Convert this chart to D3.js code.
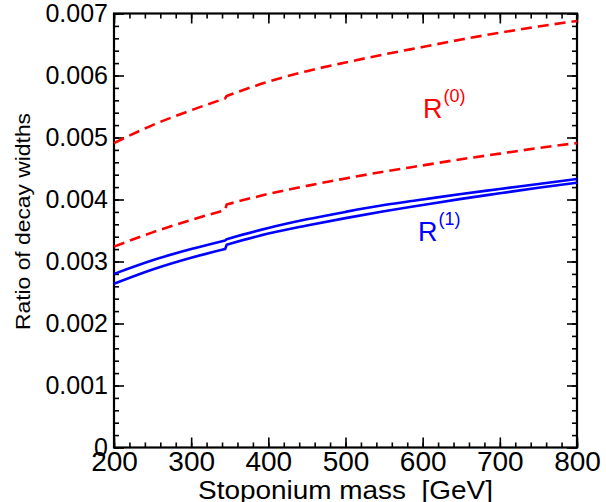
<!DOCTYPE html>
<html>
<head>
<meta charset="utf-8">
<script src="https://cdn.jsdelivr.net/npm/d3@7"></script>
<style>
  body { margin: 0; background: #fff; }
  svg { font-family: "Liberation Sans", Arial, Helvetica, sans-serif; }
</style>
</head>
<body>
<div id="chart"></div>
<script>
// stoponium mass [GeV]; 344/346 bracket the 2*m_top threshold step
const masses = [200, 250, 300, 344, 346, 400, 450, 500, 550, 600, 650, 700, 750, 800];
const stepIndex = 4; // first point above threshold

// ratio of decay widths
const r0Upper = [4.91, 5.20, 5.44, 5.63, 5.67, 5.90, 6.07, 6.21, 6.34, 6.46, 6.58, 6.69, 6.79, 6.88].map(v => v / 1000);
const r0Lower = [3.24, 3.47, 3.67, 3.83, 3.92, 4.09, 4.22, 4.34, 4.45, 4.55, 4.65, 4.74, 4.83, 4.91].map(v => v / 1000);
const r1Upper = [2.80, 3.02, 3.20, 3.34, 3.36, 3.54, 3.68, 3.80, 3.91, 4.00, 4.09, 4.17, 4.25, 4.33].map(v => v / 1000);
const r1Lower = [2.64, 2.87, 3.06, 3.20, 3.27, 3.45, 3.58, 3.70, 3.81, 3.91, 4.01, 4.10, 4.19, 4.27].map(v => v / 1000);

const xTicks = [200, 300, 400, 500, 600, 700, 800];
const yTicks = [0, 0.001, 0.002, 0.003, 0.004, 0.005, 0.006, 0.007];
const yTickLabels = ['0', '0.001', '0.002', '0.003', '0.004', '0.005', '0.006', '0.007'];

const w = 606,
      h = 502,
      mLeft = 114,
      mRight = 577,
      mTop = 13.5,
      mBottom = 447.5;

const svg = d3.select('#chart')
              .append('svg')
              .attr('width', w)
              .attr('height', h);

const xScale = d3.scaleLinear().domain([200, 800]).range([mLeft, mRight]);
const yScale = d3.scaleLinear().domain([0, 0.007]).range([mBottom, mTop]);

const xMinor = d3.range(200, 801, 20);
const yMinor = d3.range(0, 36).map(i => i * 0.0002);

function drawAxis(axis, tx, ty) {
  const g = svg.append('g')
               .attr('transform', `translate(${tx}, ${ty})`)
               .call(axis);
  g.select('.domain').remove();
  g.selectAll('line').attr('stroke', '#000').attr('stroke-width', 1.6);
  return g;
}

// minor ticks on all four sides
drawAxis(d3.axisBottom(xScale).tickValues(xMinor).tickSize(-5).tickFormat(''), 0, mBottom);
drawAxis(d3.axisTop(xScale).tickValues(xMinor).tickSize(-5).tickFormat(''), 0, mTop);
drawAxis(d3.axisLeft(yScale).tickValues(yMinor).tickSize(-5).tickFormat(''), mLeft, 0);
drawAxis(d3.axisRight(yScale).tickValues(yMinor).tickSize(-5).tickFormat(''), mRight, 0);

// major ticks
const gx = drawAxis(d3.axisBottom(xScale).tickValues(xTicks).tickSize(-10).tickPadding(4).tickFormat(d3.format('d')), 0, mBottom);
drawAxis(d3.axisTop(xScale).tickValues(xTicks).tickSize(-10).tickFormat(''), 0, mTop);
const gy = drawAxis(d3.axisLeft(yScale).tickValues(yTicks).tickSize(-10).tickPadding(6).tickFormat((d, i) => yTickLabels[i]), mLeft, 0);
drawAxis(d3.axisRight(yScale).tickValues(yTicks).tickSize(-10).tickFormat(''), mRight, 0);

gx.selectAll('text').attr('font-size', 28).attr('fill', '#000').style('font-family', 'inherit');
gy.selectAll('text').attr('font-size', 25).attr('fill', '#000').style('font-family', 'inherit');

// frame
svg.append('rect')
   .attr('x', mLeft)
   .attr('y', mTop)
   .attr('width', mRight - mLeft)
   .attr('height', mBottom - mTop)
   .attr('fill', 'none')
   .attr('stroke', '#000')
   .attr('stroke-width', 2.2);

const line = d3.line()
               .x(d => xScale(d[0]))
               .y(d => yScale(d[1]))
               .curve(d3.curveMonotoneX);

// smooth below and above threshold, joined by a short straight step
function curvePath(series) {
  const pts = masses.map((m, i) => [m, series[i]]);
  const below = line(pts.slice(0, stepIndex));
  const above = line(pts.slice(stepIndex));
  return below + 'L' + above.slice(1);
}

[r0Upper, r0Lower].forEach(series => {
  svg.append('path')
     .attr('d', curvePath(series))
     .attr('fill', 'none')
     .attr('stroke', '#ff0000')
     .attr('stroke-width', 2.6)
     .attr('stroke-dasharray', '11,6');
});

[r1Upper, r1Lower].forEach(series => {
  svg.append('path')
     .attr('d', curvePath(series))
     .attr('fill', 'none')
     .attr('stroke', '#0000ff')
     .attr('stroke-width', 2.6);
});

// curve labels
function label(x, y, sup, color) {
  const t = svg.append('text')
               .attr('x', x)
               .attr('y', y)
               .attr('fill', color)
               .attr('font-size', 27)
               .text('R');
  t.append('tspan')
   .attr('dy', -16)
   .attr('dx', 1)
   .attr('font-size', 18)
   .text(sup);
}
label(423, 118, '(0)', '#ff0000');
label(418, 241, '(1)', '#0000ff');

// axis titles
svg.append('text')
   .attr('x', 345.5)
   .attr('y', 499)
   .attr('text-anchor', 'middle')
   .attr('font-size', 26)
   .attr('textLength', 295)
   .attr('lengthAdjust', 'spacingAndGlyphs')
   .style('white-space', 'pre')
   .text('Stoponium mass  [GeV]');

svg.append('text')
   .attr('transform', 'translate(29.5, 221.5) rotate(-90)')
   .attr('text-anchor', 'middle')
   .attr('font-size', 21)
   .attr('textLength', 217)
   .attr('lengthAdjust', 'spacingAndGlyphs')
   .text('Ratio of decay widths');
</script>
</body>
</html>
